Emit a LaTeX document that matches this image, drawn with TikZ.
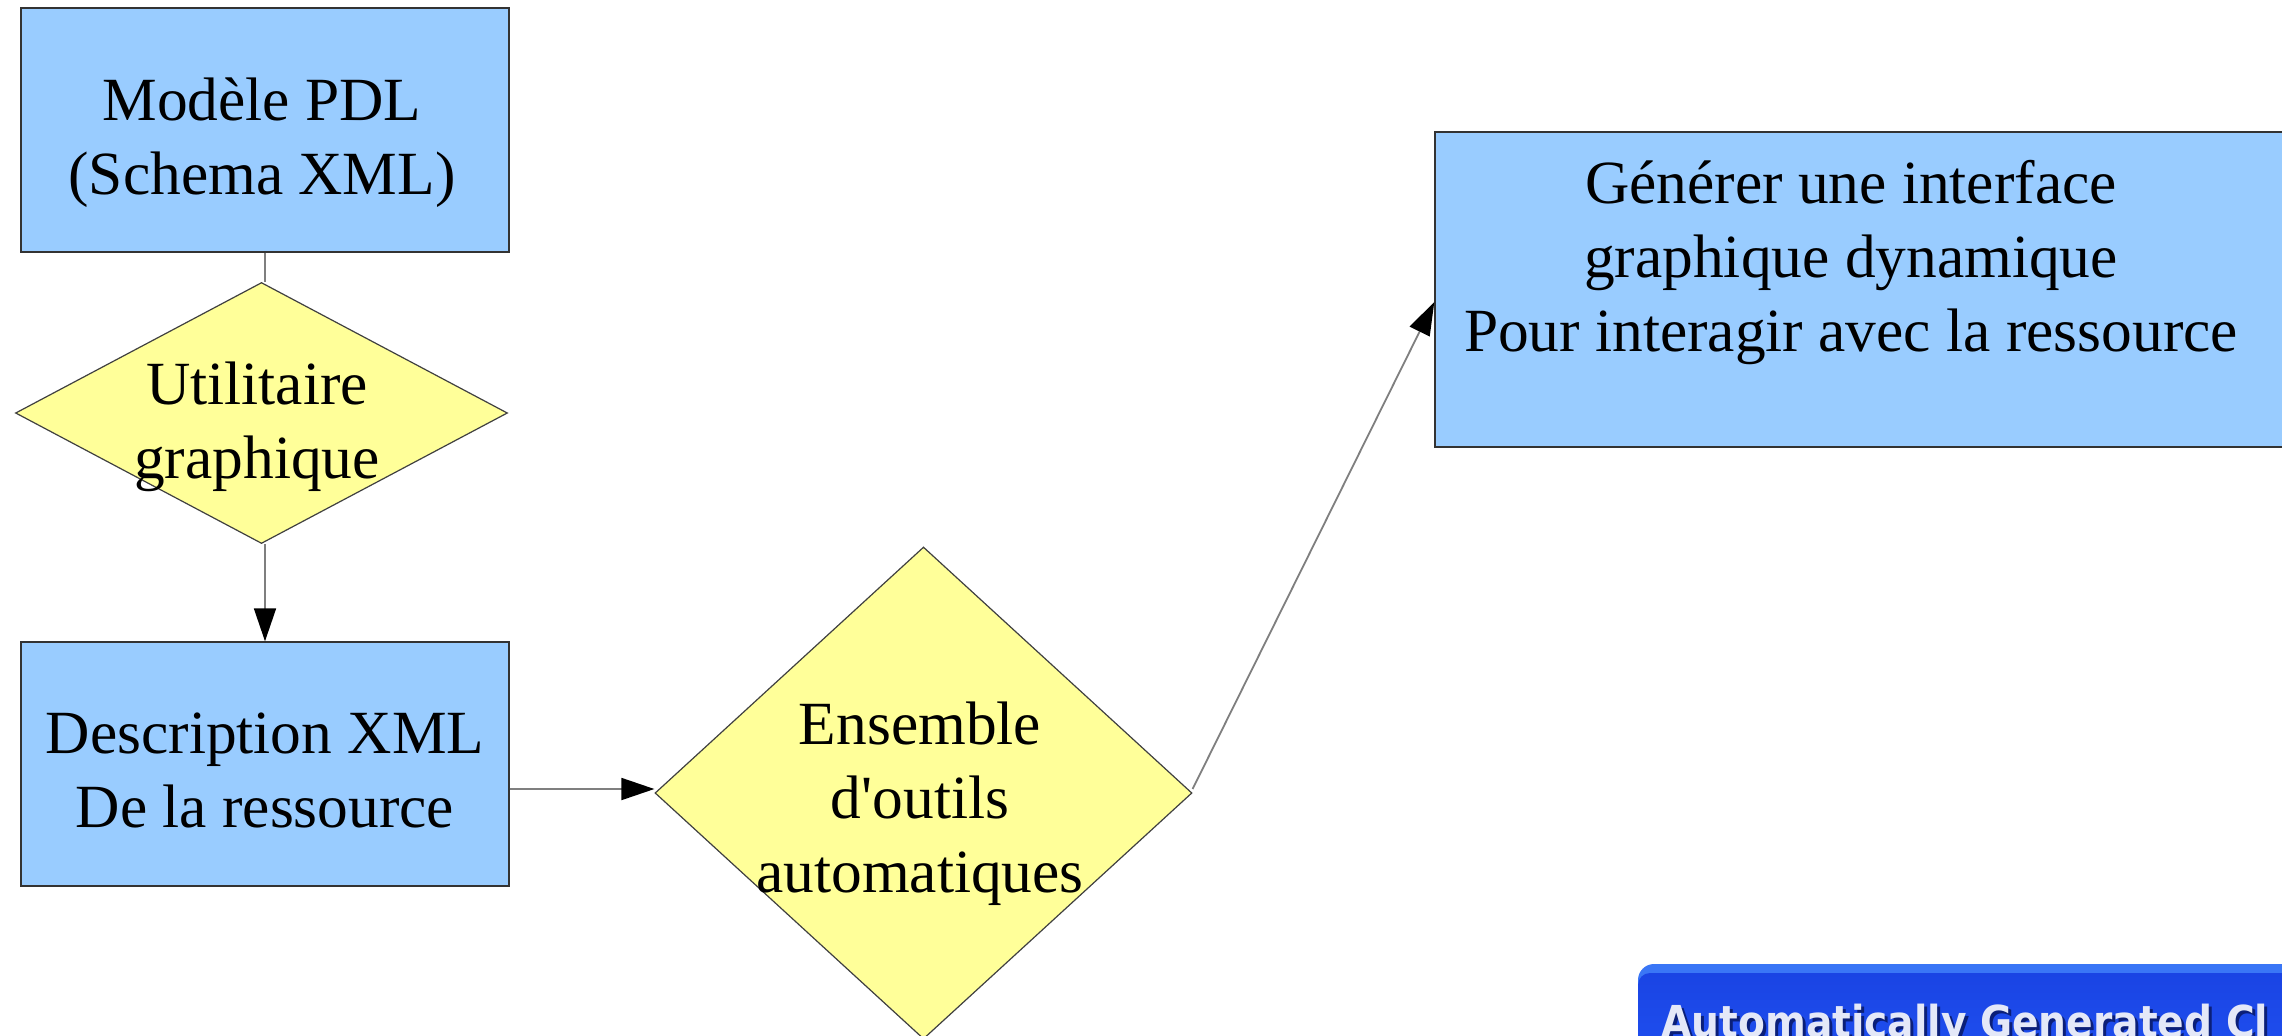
\documentclass[tikz,border=0pt]{standalone}
\usepackage{graphicx}
\usepackage{fontspec}
\setmainfont{Liberation Serif}
\newfontfamily\titlefont{DejaVu Sans}
\usetikzlibrary{shapes.geometric,arrows.meta,calc}

\definecolor{boxblue}{HTML}{99CCFF}
\definecolor{diayellow}{HTML}{FFFF99}
\definecolor{linkgray}{HTML}{7F7F7F}
\definecolor{xpedge}{HTML}{3A76F6}
\definecolor{xptop}{HTML}{1A44E4}
\definecolor{xpbottom}{HTML}{2052F2}
\definecolor{titlewhite}{HTML}{E4E8F8}
\definecolor{titleshadow}{HTML}{0B1F78}

% fixed line struts so that multi-line labels sit at known baselines
\newcommand\topstrut{\rule{0pt}{24pt}}
\newcommand\botstrut{\rule[-8pt]{0pt}{8pt}}
% condensed bold caption of the window
\newcommand\wintext{\scalebox{0.89}[1]{Automatically Generated Cl}}

\begin{document}
\begin{tikzpicture}[x=0.5pt,y=-0.5pt,
  box/.style={rectangle, draw=black!80, line width=0.7pt, fill=boxblue, inner sep=0pt},
  decision/.style={diamond, draw=black!75, line width=0.6pt, fill=diayellow, inner sep=0pt},
  caption/.style={align=center, inner sep=0pt, font=\fontsize{30.7}{37}\selectfont},
  link/.style={draw=linkgray, line width=0.9pt},
  flow/.style={link, -{Triangle[length=16.5pt,width=11pt,color=black,fill=black]}},
  wintitle/.style={anchor=base west, inner sep=0pt, font=\titlefont\bfseries\fontsize{22}{26}\selectfont},
]
\useasboundingbox (0,0) rectangle (2282,1035);
\clip (0,0) rectangle (2282,1035);
\fill[white] (0,0) rectangle (2282,1035);

% shapes
\node[box, minimum width=244pt, minimum height=122pt] (pdl) at (265,130) {};
\node[decision, minimum width=246pt, minimum height=130.5pt] (tool) at (261.5,413) {};
\node[box, minimum width=244pt, minimum height=122pt] (desc) at (265,764) {};
\node[decision, minimum width=268.5pt, minimum height=246pt] (auto) at (923.5,793) {};
\node[box, minimum width=437.5pt, minimum height=157.5pt] (gui) at (1872.5,289.5) {};

% labels
\node[caption] (pdltext) at (262,141) {\topstrut Modèle PDL\\(Schema XML)\botstrut};
\node[caption] (tooltext) at (257,425) {\topstrut Utilitaire\\graphique\botstrut};
\node[caption] (desctext) at (265,774) {\topstrut Description XML\\De la ressource\botstrut};
\node[caption] (autotext) at (920,802) {\topstrut Ensemble\\d\textquotesingle outils\\automatiques\botstrut};
\node[caption] (guitext) at (1851,261) {\topstrut Générer une interface\\graphique dynamique\\Pour interagir avec la ressource\botstrut};

% connectors
\draw[link] (pdl.south) -- (pdl.south |- tool.north);
\draw[flow] (tool.south -| desc.north) -- (desc.north);
\draw[flow] ($(desc.east |- auto.west)+(0,-4)$) -- ($(auto.west)+(0,-4)$);
\draw[flow] ($(auto.east)+(0,-4)$) -- ($(gui.west)+(0,12.5)$);

% window title bar in the lower right corner
\path[fill=xpedge, rounded corners=8pt] (1638,964) rectangle (2330,1080);
\path[top color=xptop, bottom color=xpbottom, rounded corners=6pt] (1638,973) rectangle (2330,1080);
\node[wintitle, text=titleshadow] (titleshade) at (1664,1040) {\wintext};
\node[wintitle, text=titlewhite] (title) at (1661,1037) {\wintext};
\end{tikzpicture}
\end{document}
